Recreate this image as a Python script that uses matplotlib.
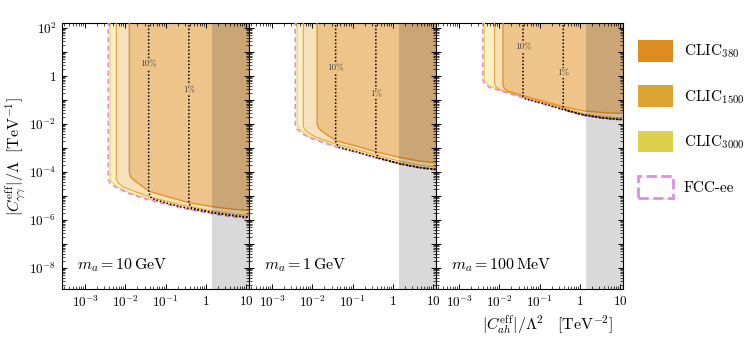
import matplotlib
matplotlib.use("Agg")
import matplotlib.pyplot as plt
import numpy as np
from matplotlib.patches import Patch
from matplotlib.ticker import FixedLocator, LogLocator, NullFormatter

plt.rcParams["font.family"] = "serif"
plt.rcParams["font.serif"] = ["cmr10"]
plt.rcParams["mathtext.fontset"] = "cm"
plt.rcParams["axes.unicode_minus"] = False

# panel labels (axion masses)
mass_labels = [r"$m_a = 10\,\mathrm{GeV}$", r"$m_a = 1\,\mathrm{GeV}$", r"$m_a = 100\,\mathrm{MeV}$"]

# region boundaries per panel, in log10 units (x = |C_ah|/L^2, y = |C_gg|/L)
fcc_x = [[-2.425, -2.425, -2.38, -2.25, -1.9, -1.4, -0.9, -0.4, 0.2, 0.7, 1.2],
         [-2.425, -2.425, -2.38, -2.25, -2.1, -1.4, -0.9, -0.4, 0.2, 0.7, 1.2],
         [-2.41, -2.41, -2.36, -2.25, -2.0, -1.4, -0.9, -0.4, 0.1, 0.6, 1.2]]
fcc_y = [[3, -4.3, -4.45, -4.62, -4.9, -5.17, -5.38, -5.57, -5.75, -5.87, -5.96],
         [3, -2.05, -2.22, -2.4, -2.55, -2.96, -3.18, -3.42, -3.68, -3.84, -3.93],
         [3, -0.17, -0.34, -0.47, -0.6, -0.92, -1.17, -1.42, -1.65, -1.77, -1.85]]

clic3000_x = [[-2.38, -2.38, -2.34, -2.22, -1.9, -1.4, -0.9, -0.4, 0.2, 0.7, 1.2],
              [-2.38, -2.38, -2.34, -2.22, -2.1, -1.4, -0.9, -0.4, 0.2, 0.7, 1.2],
              [-2.37, -2.37, -2.32, -2.22, -2.0, -1.4, -0.9, -0.4, 0.1, 0.6, 1.2]]
clic3000_y = [[3, -4.26, -4.41, -4.58, -4.86, -5.13, -5.34, -5.53, -5.71, -5.83, -5.92],
              [3, -2.02, -2.18, -2.35, -2.51, -2.92, -3.14, -3.38, -3.64, -3.8, -3.89],
              [3, -0.14, -0.3, -0.43, -0.56, -0.88, -1.13, -1.38, -1.61, -1.73, -1.81]]

clic1500_x = [[-2.225, -2.225, -2.18, -2.05, -1.9, -1.4, -0.9, -0.4, 0.2, 0.7, 1.2],
              [-2.225, -2.225, -2.18, -2.05, -1.9, -1.4, -0.9, -0.4, 0.2, 0.7, 1.2],
              [-2.12, -2.12, -2.08, -1.98, -1.85, -1.4, -0.9, -0.4, 0.1, 0.6, 1.2]]
clic1500_y = [[3, -4.3, -4.45, -4.62, -4.72, -5.03, -5.25, -5.44, -5.62, -5.74, -5.83],
              [3, -2.1, -2.25, -2.42, -2.55, -2.84, -3.06, -3.3, -3.56, -3.72, -3.81],
              [3, -0.3, -0.45, -0.56, -0.65, -0.86, -1.1, -1.34, -1.56, -1.68, -1.76]]

clic380_x = [[-1.9, -1.9, -1.86, -1.75, -1.4, -0.9, -0.4, 0.2, 0.7, 1.0, 1.2],
             [-1.88, -1.88, -1.84, -1.75, -1.4, -0.9, -0.4, 0.2, 0.7, 1.0, 1.2],
             [-1.91, -1.91, -1.87, -1.78, -1.4, -0.9, -0.4, 0.1, 0.6, 1.0, 1.2]]
clic380_y = [[3, -4.05, -4.22, -4.38, -4.8, -5.05, -5.28, -5.45, -5.55, -5.59, -5.6],
             [3, -2.0, -2.17, -2.32, -2.7, -2.92, -3.16, -3.4, -3.55, -3.6, -3.62],
             [3, -0.4, -0.53, -0.63, -0.82, -1.05, -1.28, -1.45, -1.53, -1.55, -1.56]]

# dotted precision contours
c10_x = [[-1.42, -1.42, -1.35, -0.9, -0.4, 0.2, 0.7, 1.2],
         [-1.42, -1.42, -1.35, -0.9, -0.4, 0.2, 0.7, 1.2],
         [-1.41, -1.41, -1.35, -0.9, -0.4, 0.1, 0.6, 1.2]]
c10_y = [[3, -4.85, -5.1, -5.33, -5.52, -5.7, -5.82, -5.91],
         [3, -2.72, -2.97, -3.16, -3.4, -3.66, -3.82, -3.91],
         [3, -0.85, -0.95, -1.15, -1.4, -1.62, -1.75, -1.83]]
c1_x = [[-0.42, -0.42, -0.35, 0.2, 0.7, 1.2],
        [-0.42, -0.42, -0.35, 0.2, 0.7, 1.2],
        [-0.41, -0.41, -0.35, 0.1, 0.6, 1.2]]
c1_y = [[3, -5.3, -5.5, -5.69, -5.81, -5.9],
        [3, -3.18, -3.42, -3.66, -3.82, -3.91],
        [3, -1.3, -1.42, -1.62, -1.75, -1.83]]
label10_y = [0.5, 0.33, 1.2]
label1_y = [-0.58, -0.75, 0.125]

grey_start = 1.4

colors = {"380": "#dd8c20", "1500": "#dea535", "3000": "#dfd04c", "fcc": "#e58ae5"}
fills = {"380": "#eec48b", "1500": "#f5e1bd", "3000": "#f8f0c8"}
edges = {"380": "#e8912a", "1500": "#eba63c", "3000": "#e6d455"}

fig = plt.figure(figsize=(7.48, 3.5), dpi=100)
left, width = 62 / 748, 187 / 748
bottom, height = 1 - 289 / 350, 266 / 350
axes = [fig.add_axes([left + i * width, bottom, width, height]) for i in range(3)]

xmin, xmax = 2.66e-4, 11.9
ymin, ymax = 1.35e-9, 162


def draw_region(ax, xs, ys, fc, ec, lw):
    xs = 10.0 ** np.array(xs)
    ys = 10.0 ** np.array(ys)
    px = np.append(xs, xs[-1])
    py = np.append(ys, 1e3)
    ax.fill(px, py, color=fc, lw=0, zorder=1)
    ax.plot(xs, ys, color=ec, lw=lw, zorder=3)


for i, ax in enumerate(axes):
    ax.set_xscale("log")
    ax.set_yscale("log")
    draw_region(ax, clic3000_x[i], clic3000_y[i], fills["3000"], edges["3000"], 0.8)
    draw_region(ax, clic1500_x[i], clic1500_y[i], fills["1500"], edges["1500"], 0.8)
    draw_region(ax, clic380_x[i], clic380_y[i], fills["380"], edges["380"], 1.0)
    ax.plot(10.0 ** np.array(fcc_x[i]), 10.0 ** np.array(fcc_y[i]), color=colors["fcc"],
            lw=1.2, ls=(0, (3, 2)), zorder=4)
    ax.plot(10.0 ** np.array(c10_x[i]), 10.0 ** np.array(c10_y[i]), color="k", lw=1.1,
            ls=(0, (1, 1.3)), zorder=5)
    ax.plot(10.0 ** np.array(c1_x[i]), 10.0 ** np.array(c1_y[i]), color="k", lw=1.1,
            ls=(0, (1, 1.3)), zorder=5)
    ax.text(10.0 ** c10_x[i][0], 10.0 ** label10_y[i], "10%", fontsize=6.5, color="#444444",
            ha="center", va="center", zorder=6,
            bbox=dict(fc=fills["380"], ec="none", pad=0.6))
    ax.text(10.0 ** c1_x[i][0], 10.0 ** label1_y[i], "1%", fontsize=6.5, color="#444444",
            ha="center", va="center", zorder=6,
            bbox=dict(fc=fills["380"], ec="none", pad=0.6))
    ax.axvspan(grey_start, 100, color="k", alpha=0.15, lw=0, zorder=7)

    ax.text(0.08, 0.09, mass_labels[i], transform=ax.transAxes, fontsize=11.5,
            ha="left", va="center", zorder=8)

    ax.set_xlim(xmin, xmax)
    ax.set_ylim(ymin, ymax)
    ax.xaxis.set_major_locator(FixedLocator([1e-3, 1e-2, 1e-1, 1, 10]))
    ax.set_xticklabels([r"$10^{-3}$", r"$10^{-2}$", r"$10^{-1}$", r"$1$", r"$10$"])
    ax.xaxis.set_minor_locator(LogLocator(base=10, subs=np.arange(2, 10), numticks=20))
    ax.xaxis.set_minor_formatter(NullFormatter())
    ax.yaxis.set_major_locator(FixedLocator([10.0 ** k for k in range(-8, 3)]))
    ax.yaxis.set_minor_locator(LogLocator(base=10, subs=np.arange(2, 10), numticks=30))
    ax.yaxis.set_minor_formatter(NullFormatter())
    if i == 0:
        ylabels = []
        for k in range(-8, 3):
            if k % 2:
                ylabels.append("")
            elif k == 0:
                ylabels.append(r"$1$")
            else:
                ylabels.append(r"$10^{%d}$" % k)
        ax.set_yticklabels(ylabels)
    else:
        ax.set_yticklabels([])
    ax.tick_params(which="both", direction="in", top=True, right=True, labelsize=9.5)
    ax.tick_params(which="major", length=3.5, width=0.7, pad=4)
    ax.tick_params(which="minor", length=2, width=0.5)
    for s in ax.spines.values():
        s.set_linewidth(0.8)

fig.text(16 / 748, 1 - 156 / 350, r"$|C_{\gamma\gamma}^{\rm eff}|/\Lambda\ \ [\mathrm{TeV}^{-1}]$",
         fontsize=11.5, rotation=90, ha="center", va="center")
fig.text(548 / 748, 1 - 325 / 350, r"$|C_{ah}^{\rm eff}|/\Lambda^2\quad[\mathrm{TeV}^{-2}]$",
         fontsize=11.5, ha="center", va="center")

handles = [
    Patch(facecolor=colors["380"], edgecolor="none"),
    Patch(facecolor=colors["1500"], edgecolor="none"),
    Patch(facecolor=colors["3000"], edgecolor="none"),
    Patch(facecolor="none", edgecolor=colors["fcc"], linestyle="--", lw=2),
]
labels = [r"CLIC$_{380}$", r"CLIC$_{1500}$", r"CLIC$_{3000}$", "FCC-ee"]
fig.legend(handles, labels, loc="upper left", bbox_to_anchor=(638 / 748, 1 - 40 / 350),
           frameon=False, fontsize=11, handlelength=2.3, handleheight=1.8,
           labelspacing=1.55, handletextpad=0.7, borderpad=0, borderaxespad=0)

fig.savefig("out.png", dpi=100)
